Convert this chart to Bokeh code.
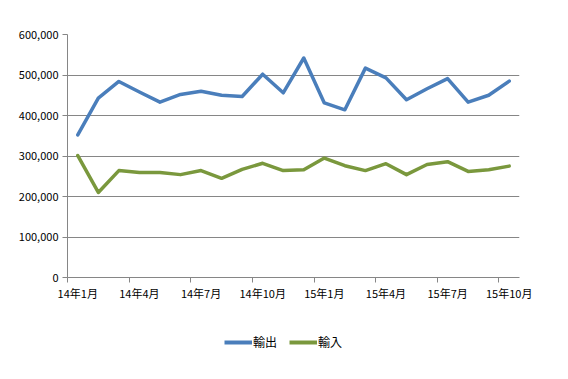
from bokeh.plotting import figure
from bokeh.layouts import column
from bokeh.models import (ColumnDataSource, FixedTicker, NumeralTickFormatter,
                          Legend, LegendItem, Range1d)
from bokeh.embed import file_html
from bokeh.resources import INLINE

months = ["14年1月", "14年2月", "14年3月", "14年4月", "14年5月", "14年6月",
          "14年7月", "14年8月", "14年9月", "14年10月", "14年11月", "14年12月",
          "15年1月", "15年2月", "15年3月", "15年4月", "15年5月", "15年6月",
          "15年7月", "15年8月", "15年9月", "15年10月"]
exports = [352000, 443000, 484000, 458000, 433000, 452000, 460000, 450000,
           447000, 502000, 456000, 542000, 431000, 414000, 517000, 493000,
           439000, 466000, 491000, 433000, 450000, 485000]
imports = [301000, 210000, 264000, 259000, 259000, 254000, 264000, 245000,
           267000, 282000, 264000, 266000, 295000, 276000, 264000, 281000,
           254000, 279000, 286000, 262000, 266000, 275000]
y_ticks = [0, 100000, 200000, 300000, 400000, 500000, 600000]
series_names = ["輸出", "輸入"]
series_colors = ["#4A7EBB", "#7A983D"]

idx = list(range(len(months)))
src = ColumnDataSource(dict(x=idx, exp=exports, imp=imports, m=months))

FONT = "Noto Sans CJK JP"
GRID = "#868686"

p = figure(width=552, height=308, output_backend="svg", toolbar_location=None,
           x_range=Range1d(-0.5, len(months) - 0.5), y_range=Range1d(0, 600000),
           min_border_left=67, min_border_right=33, min_border_top=34,
           min_border_bottom=31)
p.outline_line_color = None
p.background_fill_color = "white"
p.border_fill_color = "white"

l1 = p.line("x", "exp", source=src, line_color=series_colors[0], line_width=3.5,
            line_join="round", line_cap="round")
l2 = p.line("x", "imp", source=src, line_color=series_colors[1], line_width=3.5,
            line_join="round", line_cap="round")

# x axis: labels on every third month, ticks at bin boundaries
label_pos = [i for i in idx if i % 3 == 0]
p.xaxis.ticker = FixedTicker(ticks=label_pos, minor_ticks=[i - 0.5 for i in label_pos])
p.xaxis.major_label_overrides = {i: months[i] for i in label_pos}
p.xaxis.major_tick_line_color = None
p.xaxis.major_tick_out = 5
p.xaxis.minor_tick_line_color = GRID
p.xaxis.minor_tick_in = 0
p.xaxis.minor_tick_out = 5
p.xaxis.axis_line_color = GRID
p.xaxis.major_label_standoff = 2
p.xgrid.grid_line_color = None

p.yaxis.ticker = FixedTicker(ticks=y_ticks)
p.yaxis.formatter = NumeralTickFormatter(format="0,0")
p.yaxis.axis_line_color = GRID
p.yaxis.major_tick_line_color = GRID
p.yaxis.major_tick_in = 0
p.yaxis.major_tick_out = 5
p.yaxis.minor_tick_line_color = None
p.yaxis.major_label_standoff = 4
p.ygrid.grid_line_color = GRID
p.ygrid.ticker = FixedTicker(ticks=y_ticks)

for ax in (p.xaxis, p.yaxis):
    ax.major_label_text_font = FONT
    ax.major_label_text_font_size = "11px"
    ax.major_label_text_color = "black"

# legend strip below the chart (series drawn off-range so only swatches show)
q = figure(width=552, height=55, output_backend="svg", toolbar_location=None,
           x_axis_type=None, y_axis_type=None, min_border=0,
           x_range=Range1d(-0.5, len(months) - 0.5), y_range=Range1d(-2, -1))
q.outline_line_color = None
q.grid.grid_line_color = None
q.border_fill_color = "white"
q.background_fill_color = "white"
s1 = q.line("x", "exp", source=src, line_color=series_colors[0], line_width=4)
s2 = q.line("x", "imp", source=src, line_color=series_colors[1], line_width=4)
legend = Legend(items=[LegendItem(label=series_names[0], renderers=[s1]),
                       LegendItem(label=series_names[1], renderers=[s2])],
                orientation="horizontal", location=(157, 13),
                label_text_font=FONT, label_text_font_size="12px",
                label_text_color="black", glyph_width=28, glyph_height=12,
                label_standoff=1, spacing=12, padding=0, margin=0,
                border_line_color=None, background_fill_alpha=0)
q.add_layout(legend, "center")

layout = column(p, q, spacing=0)
open("out.html", "w").write(file_html(layout, INLINE))
